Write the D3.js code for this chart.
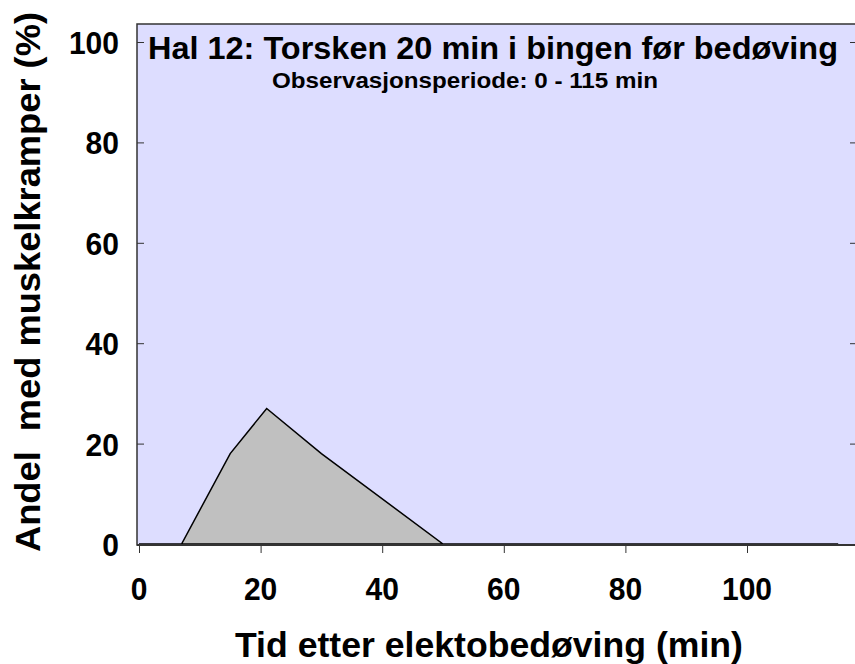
<!DOCTYPE html>
<meta charset="utf-8">
<style>
body { margin: 0; background: #fff; }
svg text { font-family: "Liberation Sans", Arial, sans-serif; font-weight: bold; white-space: pre; }
</style>
<body>
<div id="chart"></div>
<script src="https://cdn.jsdelivr.net/npm/d3@7"></script>
<script>
// tid (min) og andel med muskelkramper (%)
var minutes = [0, 7, 15, 21, 30, 50, 115];
var share = [0, 0, 18, 27, 18, 0, 0];
var xTicks = [0, 20, 40, 60, 80, 100];
var yTicks = [0, 20, 40, 60, 80, 100];

var title = "Hal 12: Torsken 20 min i bingen før bedøving";
var subtitle = "Observasjonsperiode: 0 - 115 min";
var xTitle = "Tid etter elektobedøving (min)";
var yTitle = "Andel  med muskelkramper (%)";

var width = 855, height = 664;
var plotL = 137, plotR = 857, plotT = 24, plotB = 545;

var svg = d3.select("#chart").append("svg")
  .attr("width", width).attr("height", height);

var x = d3.scaleLinear().domain([0, 100]).range([139, 747]);
var y = d3.scaleLinear().domain([0, 100]).range([544, 42]);

// plot bakgrunn
svg.append("rect")
  .attr("x", plotL).attr("y", plotT)
  .attr("width", plotR - plotL).attr("height", plotB - plotT)
  .attr("fill", "#DDDDFF")
  .attr("stroke", "#333")
  .attr("stroke-width", 1.5);

// data
var data = minutes.map(function(m, i) { return {m: m, v: share[i]}; });

var area = d3.area()
  .x(function(d) { return x(d.m); })
  .y0(y(0))
  .y1(function(d) { return y(d.v); });

svg.append("path")
  .datum(data)
  .attr("d", area)
  .attr("fill", "#C0C0C0")
  .attr("stroke", "#000")
  .attr("stroke-width", 1.5);

// akser
var yAxis = svg.append("g")
  .attr("transform", "translate(" + plotL + ",0)")
  .call(d3.axisRight(y).tickValues(yTicks).tickSize(7).tickFormat(""));
yAxis.select(".domain").remove();
yAxis.selectAll("line").attr("stroke", "#333");

var yAxisR = svg.append("g")
  .attr("transform", "translate(" + plotR + ",0)")
  .call(d3.axisLeft(y).tickValues(yTicks).tickSize(7).tickFormat(""));
yAxisR.select(".domain").remove();
yAxisR.selectAll("line").attr("stroke", "#333");

var xAxis = svg.append("g")
  .attr("transform", "translate(0," + plotB + ")")
  .call(d3.axisBottom(x).tickValues(xTicks).tickSize(8).tickFormat(""));
xAxis.select(".domain").remove();
xAxis.selectAll("line").attr("stroke", "#333");

svg.append("line")
  .attr("x1", plotL).attr("x2", plotR)
  .attr("y1", plotB).attr("y2", plotB)
  .attr("stroke", "#333").attr("stroke-width", 2);

// tick-tekst
svg.append("g").selectAll("text")
  .data(yTicks).enter().append("text")
  .attr("x", 119)
  .attr("y", function(d) { return y(d) + 12; })
  .attr("text-anchor", "end")
  .attr("font-size", 31)
  .attr("textLength", function(d) { return String(d).length * 16.7; })
  .attr("lengthAdjust", "spacingAndGlyphs")
  .text(function(d) { return d; });

svg.append("g").selectAll("text")
  .data(xTicks).enter().append("text")
  .attr("x", function(d) { return x(d); })
  .attr("y", 600)
  .attr("text-anchor", "middle")
  .attr("font-size", 31)
  .attr("textLength", function(d) { return String(d).length * 16.7; })
  .attr("lengthAdjust", "spacingAndGlyphs")
  .text(function(d) { return d; });

// titler
svg.append("text")
  .attr("x", 493).attr("y", 59)
  .attr("text-anchor", "middle")
  .attr("font-size", 31.5)
  .attr("textLength", 690)
  .attr("lengthAdjust", "spacingAndGlyphs")
  .text(title);

svg.append("text")
  .attr("x", 465).attr("y", 88)
  .attr("text-anchor", "middle")
  .attr("font-size", 22)
  .attr("textLength", 386)
  .attr("lengthAdjust", "spacingAndGlyphs")
  .text(subtitle);

svg.append("text")
  .attr("x", 489).attr("y", 657)
  .attr("text-anchor", "middle")
  .attr("font-size", 35)
  .attr("textLength", 508)
  .attr("lengthAdjust", "spacingAndGlyphs")
  .text(xTitle);

svg.append("text")
  .attr("transform", "translate(40,282) rotate(-90)")
  .attr("text-anchor", "middle")
  .attr("font-size", 35)
  .attr("textLength", 540)
  .attr("lengthAdjust", "spacingAndGlyphs")
  .text(yTitle);
</script>
